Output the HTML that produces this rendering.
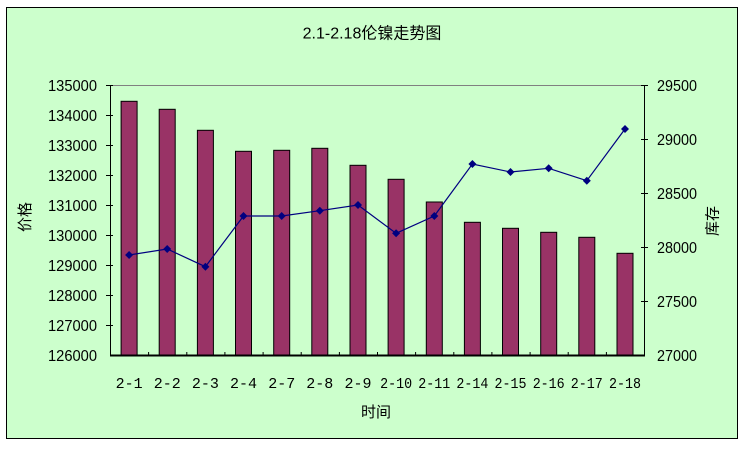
<!DOCTYPE html>
<html><head><meta charset="utf-8"><style>
html,body{margin:0;padding:0;background:#fff;width:742px;height:450px;overflow:hidden}
svg{display:block}
text{font-family:"Liberation Sans","Noto Sans CJK SC",sans-serif;fill:#000}
.m{font-family:"Liberation Mono","Noto Sans CJK SC",monospace}
</style></head><body>
<svg width="742" height="450" viewBox="0 0 742 450" xmlns="http://www.w3.org/2000/svg">
<rect x="0" y="0" width="742" height="450" fill="#fff"/>
<rect x="6.5" y="7.5" width="731" height="431" fill="#CCFFCC" stroke="#000" stroke-width="1"/>
<text x="372" y="38.5" font-size="16" text-anchor="middle">2.1-2.18伦镍走势图</text>
<line x1="110" y1="85.5" x2="644" y2="85.5" stroke="#808080" stroke-width="1"/>
<g fill="#993366" stroke="#000" stroke-width="1">
<rect x="121.1" y="101.3" width="16" height="254.2"/>
<rect x="159.2" y="109.3" width="16" height="246.2"/>
<rect x="197.4" y="130.3" width="16" height="225.2"/>
<rect x="235.5" y="151.3" width="16" height="204.2"/>
<rect x="273.7" y="150.3" width="16" height="205.2"/>
<rect x="311.8" y="148.3" width="16" height="207.2"/>
<rect x="350.0" y="165.3" width="16" height="190.2"/>
<rect x="388.1" y="179.3" width="16" height="176.2"/>
<rect x="426.3" y="202" width="16" height="153.5"/>
<rect x="464.4" y="222.3" width="16" height="133.2"/>
<rect x="502.5" y="228.3" width="16" height="127.2"/>
<rect x="540.7" y="232.3" width="16" height="123.2"/>
<rect x="578.8" y="237.3" width="16" height="118.2"/>
<rect x="617.0" y="253.3" width="16" height="102.2"/>
</g>
<line x1="110.5" y1="85" x2="110.5" y2="356" stroke="#000" stroke-width="1"/>
<line x1="644.5" y1="85" x2="644.5" y2="356" stroke="#000" stroke-width="1"/>
<line x1="110" y1="355.5" x2="645" y2="355.5" stroke="#000" stroke-width="2"/>
<g stroke="#000" stroke-width="1">
<line x1="106" y1="85.5" x2="113" y2="85.5"/><line x1="106" y1="115.5" x2="113" y2="115.5"/>
<line x1="106" y1="145.5" x2="113" y2="145.5"/><line x1="106" y1="175.5" x2="113" y2="175.5"/>
<line x1="106" y1="205.5" x2="113" y2="205.5"/><line x1="106" y1="235.5" x2="113" y2="235.5"/>
<line x1="106" y1="265.5" x2="113" y2="265.5"/><line x1="106" y1="295.5" x2="113" y2="295.5"/>
<line x1="106" y1="325.5" x2="113" y2="325.5"/>
<line x1="641" y1="85.5" x2="648" y2="85.5"/><line x1="641" y1="139.5" x2="648" y2="139.5"/>
<line x1="641" y1="193.5" x2="648" y2="193.5"/><line x1="641" y1="247.5" x2="648" y2="247.5"/>
<line x1="641" y1="301.5" x2="648" y2="301.5"/>
<line x1="148.6" y1="352" x2="148.6" y2="355"/><line x1="186.8" y1="352" x2="186.8" y2="355"/>
<line x1="224.9" y1="352" x2="224.9" y2="355"/><line x1="263.1" y1="352" x2="263.1" y2="355"/>
<line x1="301.2" y1="352" x2="301.2" y2="355"/><line x1="339.4" y1="352" x2="339.4" y2="355"/>
<line x1="377.5" y1="352" x2="377.5" y2="355"/><line x1="415.6" y1="352" x2="415.6" y2="355"/>
<line x1="453.8" y1="352" x2="453.8" y2="355"/><line x1="491.9" y1="352" x2="491.9" y2="355"/>
<line x1="530.1" y1="352" x2="530.1" y2="355"/><line x1="568.2" y1="352" x2="568.2" y2="355"/>
<line x1="606.4" y1="352" x2="606.4" y2="355"/>
</g>
<polyline fill="none" stroke="#000080" stroke-width="1.2" points="129.1,255 167.2,249 205.4,266.7 243.5,216 281.7,216 319.8,210.7 358,205 396.1,233.3 434.3,216 472.4,164 510.5,172 548.7,168.3 586.8,180.7 625,129"/>
<g fill="#000080">
<path d="M129.1 251 L133.1 255 L129.1 259 L125.1 255Z"/>
<path d="M167.2 245 L171.2 249 L167.2 253 L163.2 249Z"/>
<path d="M205.4 262.7 L209.4 266.7 L205.4 270.7 L201.4 266.7Z"/>
<path d="M243.5 212 L247.5 216 L243.5 220 L239.5 216Z"/>
<path d="M281.7 212 L285.7 216 L281.7 220 L277.7 216Z"/>
<path d="M319.8 206.7 L323.8 210.7 L319.8 214.7 L315.8 210.7Z"/>
<path d="M358 201 L362 205 L358 209 L354 205Z"/>
<path d="M396.1 229.3 L400.1 233.3 L396.1 237.3 L392.1 233.3Z"/>
<path d="M434.3 212 L438.3 216 L434.3 220 L430.3 216Z"/>
<path d="M472.4 160 L476.4 164 L472.4 168 L468.4 164Z"/>
<path d="M510.5 168 L514.5 172 L510.5 176 L506.5 172Z"/>
<path d="M548.7 164.3 L552.7 168.3 L548.7 172.3 L544.7 168.3Z"/>
<path d="M586.8 176.7 L590.8 180.7 L586.8 184.7 L582.8 180.7Z"/>
<path d="M625 125 L629 129 L625 133 L621 129Z"/>
</g>
<g font-size="16" text-anchor="end">
<text x="97" y="91" textLength="49" lengthAdjust="spacingAndGlyphs">135000</text>
<text x="97" y="121" textLength="49" lengthAdjust="spacingAndGlyphs">134000</text>
<text x="97" y="151" textLength="49" lengthAdjust="spacingAndGlyphs">133000</text>
<text x="97" y="181" textLength="49" lengthAdjust="spacingAndGlyphs">132000</text>
<text x="97" y="211" textLength="49" lengthAdjust="spacingAndGlyphs">131000</text>
<text x="97" y="241" textLength="49" lengthAdjust="spacingAndGlyphs">130000</text>
<text x="97" y="271" textLength="49" lengthAdjust="spacingAndGlyphs">129000</text>
<text x="97" y="301" textLength="49" lengthAdjust="spacingAndGlyphs">128000</text>
<text x="97" y="331" textLength="49" lengthAdjust="spacingAndGlyphs">127000</text>
<text x="97" y="361" textLength="49" lengthAdjust="spacingAndGlyphs">126000</text>
</g>
<g font-size="16">
<text x="657" y="91" textLength="40" lengthAdjust="spacingAndGlyphs">29500</text>
<text x="657" y="145" textLength="40" lengthAdjust="spacingAndGlyphs">29000</text>
<text x="657" y="199" textLength="40" lengthAdjust="spacingAndGlyphs">28500</text>
<text x="657" y="253" textLength="40" lengthAdjust="spacingAndGlyphs">28000</text>
<text x="657" y="307" textLength="40" lengthAdjust="spacingAndGlyphs">27500</text>
<text x="657" y="361" textLength="40" lengthAdjust="spacingAndGlyphs">27000</text>
</g>
<g font-size="15" text-anchor="middle">
<text class="m" x="129.1" y="388">2-1</text>
<text class="m" x="167.2" y="388">2-2</text>
<text class="m" x="205.4" y="388">2-3</text>
<text class="m" x="243.5" y="388">2-4</text>
<text class="m" x="281.7" y="388">2-7</text>
<text class="m" x="319.8" y="388">2-8</text>
<text class="m" x="358" y="388">2-9</text>
<text class="m" x="396.1" y="388" textLength="32" lengthAdjust="spacingAndGlyphs">2-10</text>
<text class="m" x="434.3" y="388" textLength="32" lengthAdjust="spacingAndGlyphs">2-11</text>
<text class="m" x="472.4" y="388" textLength="32" lengthAdjust="spacingAndGlyphs">2-14</text>
<text class="m" x="510.5" y="388" textLength="32" lengthAdjust="spacingAndGlyphs">2-15</text>
<text class="m" x="548.7" y="388" textLength="32" lengthAdjust="spacingAndGlyphs">2-16</text>
<text class="m" x="586.8" y="388" textLength="32" lengthAdjust="spacingAndGlyphs">2-17</text>
<text class="m" x="625" y="388" textLength="32" lengthAdjust="spacingAndGlyphs">2-18</text>
</g>
<text x="376" y="417" font-size="15" text-anchor="middle">时间</text>
<text transform="translate(30,217) rotate(-90)" font-size="15" text-anchor="middle">价格</text>
<text transform="translate(717.5,221) rotate(-90)" font-size="15" text-anchor="middle">库存</text>
</svg>
</body></html>
